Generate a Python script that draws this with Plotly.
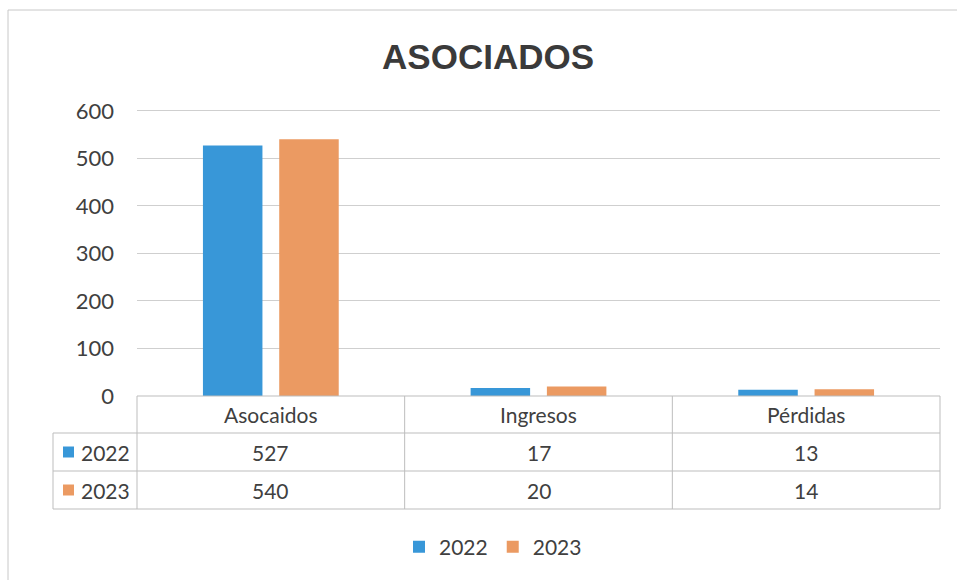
import plotly.graph_objects as go

categories = ["Asocaidos", "Ingresos", "Pérdidas"]
series_names = ["2022", "2023"]
values_2022 = [527, 17, 13]
values_2023 = [540, 20, 14]
y_ticks = [0, 100, 200, 300, 400, 500, 600]

colors = {"2022": "#3897d8", "2023": "#eb9a62"}
series_values = {"2022": values_2022, "2023": values_2023}

FONT = "Lato"
TXT = "#404040"
LINE = "#bdbdbd"

# pixel -> paper conversion helpers (plot area: x 137..940, y 107..396)
L, R, T, B = 137, 940, 107, 396
def px(x):
    return (x - L) / (R - L)
def py(y):
    return (B - y) / (B - T)

fig = go.Figure()
xs = list(range(len(categories)))
for name in series_names:
    fig.add_trace(go.Bar(
        x=xs, y=series_values[name], name=name,
        marker=dict(color=colors[name], line=dict(width=0)),
    ))

shapes = []
annotations = []

# table horizontal lines
row_lines = [396, 433, 471, 509]
for i, yy in enumerate(row_lines):
    x0 = 0 if i == 0 else px(53)
    shapes.append(dict(type="line", xref="paper", yref="paper", x0=x0, x1=1,
                       y0=py(yy), y1=py(yy), line=dict(color=LINE, width=1)))
# vertical lines
shapes.append(dict(type="line", xref="paper", yref="paper", x0=px(53), x1=px(53),
                   y0=py(433), y1=py(509), line=dict(color=LINE, width=1)))
shapes.append(dict(type="line", xref="paper", yref="paper", x0=0, x1=0,
                   y0=py(396), y1=py(509), line=dict(color=LINE, width=1)))
shapes.append(dict(type="line", xref="paper", yref="paper", x0=1, x1=1,
                   y0=py(396), y1=py(509), line=dict(color=LINE, width=1)))
for b in [0.5, 1.5]:
    shapes.append(dict(type="line", xref="x", yref="paper", x0=b, x1=b,
                       y0=py(396), y1=py(509), line=dict(color=LINE, width=1)))

# outer chart border
shapes.append(dict(type="rect", xref="paper", yref="paper", x0=px(8),
                   x1=px(975), y0=py(600), y1=py(10),
                   line=dict(color="#c8c8c8", width=1), fillcolor="rgba(0,0,0,0)"))

# header row
for i, c in enumerate(categories):
    annotations.append(dict(xref="x", yref="paper", x=i, y=py(414.5), text=c,
                            showarrow=False, font=dict(family=FONT, size=21, color=TXT),
                            xanchor="center", yanchor="middle"))
row_centers = {"2022": 452, "2023": 490}
for name in series_names:
    yc = row_centers[name]
    shapes.append(dict(type="rect", xref="paper", yref="paper", x0=px(63), x1=px(74),
                       y0=py(yc + 5.5), y1=py(yc - 5.5), fillcolor=colors[name],
                       line=dict(width=0)))
    annotations.append(dict(xref="paper", yref="paper", x=px(79), y=py(yc), text=name,
                            showarrow=False, font=dict(family=FONT, size=21, color=TXT),
                            xanchor="left", yanchor="middle"))
    for i, v in enumerate(series_values[name]):
        annotations.append(dict(xref="x", yref="paper", x=i, y=py(yc), text=str(v),
                                showarrow=False, font=dict(family=FONT, size=21, color=TXT),
                                xanchor="center", yanchor="middle"))

fig.update_layout(
    width=957, height=580,
    margin=dict(l=L, r=957 - R, t=T, b=580 - B),
    paper_bgcolor="white", plot_bgcolor="white",
    title=dict(text="<b>ASOCIADOS</b>", x=0.51, xref="container", y=1 - 57 / 580,
               yref="container", xanchor="center", yanchor="middle",
               font=dict(family="Liberation Sans", size=35, color="#3a3a3a")),
    bargap=0.43, bargroupgap=0.22, barmode="group",
    xaxis=dict(range=[-0.5, 2.5], showticklabels=False, showgrid=False,
               zeroline=False, showline=False, ticks=""),
    yaxis=dict(range=[0, 608], tickvals=y_ticks, showgrid=True, gridcolor="#cfcfcf",
               gridwidth=1, zeroline=False, showline=False,
               tickfont=dict(family=FONT, size=22, color=TXT), ticklabelstandoff=22),
    showlegend=True,
    legend=dict(orientation="h", x=px(493), y=py(547), xanchor="center", yanchor="middle",
                font=dict(family=FONT, size=21, color=TXT), itemwidth=30,
                traceorder="normal"),
    shapes=shapes, annotations=annotations,
)

fig.write_html("out.html", config={"displayModeBar": False},
               post_script="document.body.style.margin='0';")
